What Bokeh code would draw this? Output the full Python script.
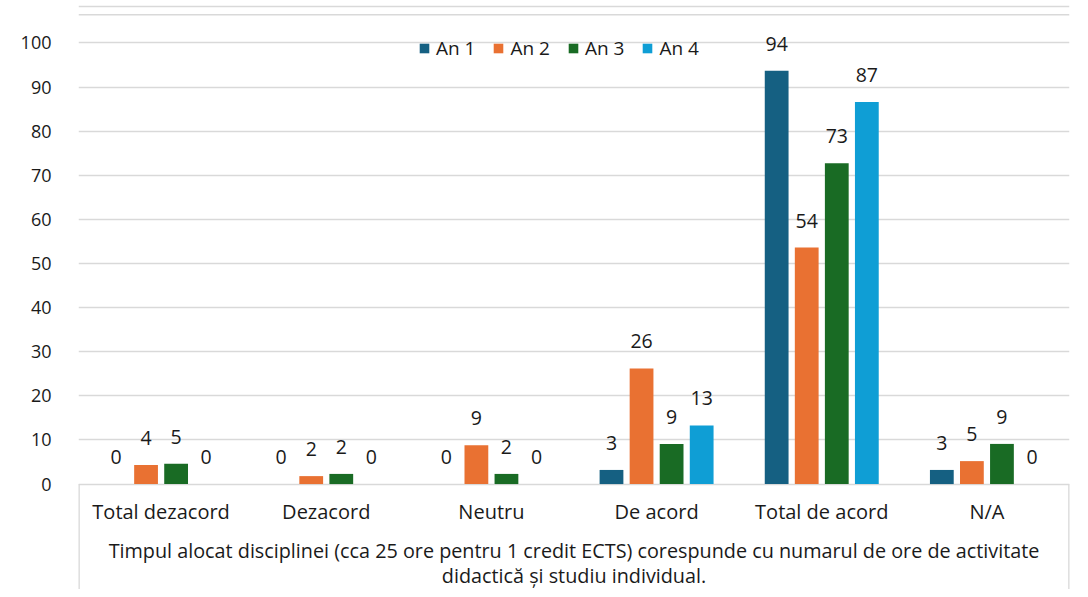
from bokeh.plotting import figure
from bokeh.models import (ColumnDataSource, Range1d, FactorRange, FixedTicker, Legend, LegendItem,
                          Span)
from bokeh.transform import dodge
from bokeh.embed import file_html
from bokeh.resources import INLINE
from bokeh.core.properties import value

# ---------------- data ----------------
categories = ["Total dezacord", "Dezacord", "Neutru", "De acord", "Total de acord", "N/A"]
series_names = ["An 1", "An 2", "An 3", "An 4"]
an1 = [0, 0, 0, 3.2, 93.7, 3.2]
an2 = [4.3, 1.8, 8.8, 26.2, 53.6, 5.2]
an3 = [4.6, 2.3, 2.3, 9.1, 72.7, 9.1]
an4 = [0, 0, 0, 13.3, 86.6, 0]
y_ticks = [0, 10, 20, 30, 40, 50, 60, 70, 80, 90, 100]
axis_title_lines = [
    "Timpul alocat disciplinei (cca 25 ore pentru 1 credit ECTS) corespunde cu numarul de ore de activitate",
    "didactică și studiu individual.",
]

# ---------------- style ----------------
colors = ["#156082", "#E97132", "#196B24", "#0F9ED5"]
offsets = [-0.273, -0.091, 0.091, 0.273]
bar_width = 0.144
FONT = "Open Sans"
TXT = "#1a1a1a"
GRID = "#d9d9d9"

data = {"cat": categories}
series = [an1, an2, an3, an4]
for i, s in enumerate(series):
    data[f"s{i}"] = s
    data[f"l{i}"] = [str(int(v + 0.5)) for v in s]
src = ColumnDataSource(data)

p = figure(
    x_range=FactorRange(*categories, range_padding=0, factor_padding=0),
    y_range=Range1d(-23.9, 108.7),
    width=1072, height=589,
    output_backend="svg", toolbar_location=None,
    x_axis_location=None,
    min_border_left=78, min_border_right=3, min_border_top=4, min_border_bottom=0,
)
p.outline_line_color = None
p.background_fill_color = "white"
p.border_fill_color = "white"

p.xgrid.visible = False
p.ygrid.grid_line_color = GRID
p.ygrid.grid_line_width = 1.3

yax = p.yaxis[0]
yax.ticker = FixedTicker(ticks=y_ticks)
yax.axis_line_color = None
yax.major_tick_line_color = None
yax.minor_tick_line_color = None
yax.major_label_standoff = 21
yax.major_label_text_font = FONT
yax.major_label_text_font_size = "18px"
yax.major_label_text_color = TXT

# chart-area border lines at the top
p.add_layout(Span(location=108.25, dimension="width", line_color=GRID, line_width=1.5))
p.add_layout(Span(location=106.4, dimension="width", line_color=GRID, line_width=1.5))

items = []
for i in range(4):
    r = p.vbar(x=dodge("cat", offsets[i], range=p.x_range), top=f"s{i}", width=bar_width,
               source=src, fill_color=colors[i], line_color=None)
    items.append(LegendItem(label=series_names[i], renderers=[r]))
    p.text(x=dodge("cat", offsets[i], range=p.x_range), y=f"s{i}", text=f"l{i}", source=src,
           text_align="center", text_baseline="middle", y_offset=-27,
           text_font=value(FONT), text_font_size="19.5px", text_color=TXT)

# category labels and axis title inside the lower part of the frame
p.text(x="cat", y=-6.2, text="cat", source=src, text_align="center", text_baseline="middle",
       text_font=value(FONT), text_font_size="20px", text_color=TXT)
p.text(x=[3, 3], y=[-15.1, -20.8], text=axis_title_lines, text_align="center",
       text_baseline="middle", text_font=value(FONT), text_font_size="19.8px", text_color=TXT)

# vertical box edges of the category axis
p.segment(x0=[0, 6], y0=[0, 0], x1=[0, 6], y1=[-30, -30], line_color=GRID, line_width=2.6)

legend = Legend(items=items, orientation="horizontal", location=(340, 528),
                glyph_width=12, glyph_height=12, label_standoff=6, spacing=17,
                padding=0, margin=0, border_line_color=None, background_fill_alpha=0,
                label_text_font=FONT, label_text_font_size="19px", label_text_color=TXT,
                label_height=20)
p.add_layout(legend, "center")

open("out.html", "w").write(file_html(p, INLINE))
